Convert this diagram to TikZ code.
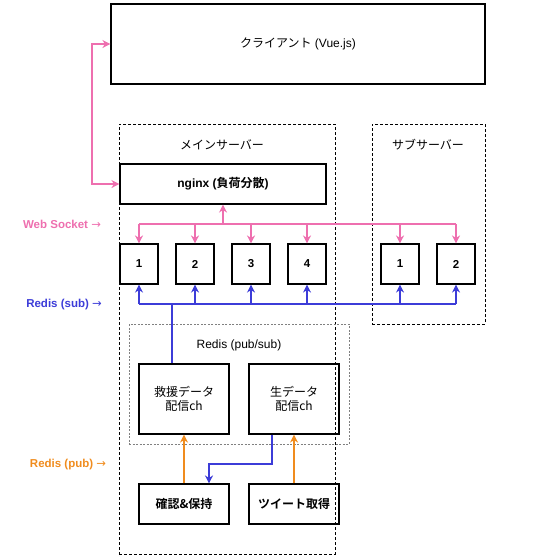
\documentclass[tikz,border=0pt]{standalone}
\usepackage{fontspec}
\setmainfont{Liberation Sans}
\newfontfamily\jp{Noto Sans CJK JP}[BoldFont={Noto Sans CJK JP Bold}]
\newfontfamily\sym{DejaVu Sans}
\usetikzlibrary{arrows.meta}
\definecolor{wspink}{HTML}{EE6FAF}
\definecolor{subblue}{HTML}{3C3CD8}
\definecolor{puborange}{HTML}{F08C1E}
\tikzset{
  box/.style={draw, line width=1.1pt, minimum width=#1, inner sep=0pt},
  worker/.style={draw, line width=1.1pt, minimum width=38pt, minimum height=40pt, inner sep=0pt, font=\bfseries\fontsize{11.5}{13}\selectfont},
  dashbox/.style={draw, dash pattern=on 3pt off 2pt, line width=1pt},
  dotbox/.style={draw=gray, dash pattern=on 2pt off 1.5pt, line width=0.7pt},
  txt/.style={font=\fontsize{12}{14.5}\selectfont, align=center},
  lbl/.style={font=\bfseries\fontsize{11.5}{13}\selectfont},
  tip/.style={-{Stealth[length=8pt,width=8pt,inset=2.5pt]}},
  both/.style={{Stealth[length=8pt,width=8pt,inset=2.5pt]}-{Stealth[length=8pt,width=8pt,inset=2.5pt]}},
  ws/.style={wspink, line width=1.1pt},
  sb/.style={subblue, line width=1.1pt},
  pb/.style={puborange, line width=1.1pt},
}
\begin{document}
\begin{tikzpicture}[x=1pt,y=-1pt]
\useasboundingbox (0,0) rectangle (560,560);
% containers
\node[dashbox, minimum width=216pt, minimum height=430pt, inner sep=0pt] (main) at (227,339) {};
\node[dashbox, minimum width=113pt, minimum height=200pt, inner sep=0pt] (sub) at (428.5,224) {};
\node[txt] (maint) at (222,145) {\jp メインサーバー};
\node[txt] (subt) at (428,145) {\jp サブサーバー};
\node[dotbox, minimum width=220pt, minimum height=120pt, inner sep=0pt] (redis) at (239,384) {};
\node[txt] (redist) at (239,345) {Redis (pub/sub)};
% boxes
\node[box=374pt, minimum height=80pt, txt] (client) at (298,44) {{\jp クライアント} (Vue.js)};
\node[box=206pt, minimum height=40pt, txt, font=\bfseries\fontsize{12}{14.5}\selectfont] (nginx) at (223,184) {nginx ({\jp\bfseries 負荷分散})};
\node[worker] (w1) at (139,264) {1};
\node[worker] (w2) at (195,264) {2};
\node[worker] (w3) at (251,264) {3};
\node[worker] (w4) at (307,264) {4};
\node[worker] (s1) at (400,264) {1};
\node[worker] (s2) at (456,264) {2};
\node[box=90pt, minimum height=70pt, txt] (rescue) at (184,399) {\jp 救援データ\\[-1pt]\jp 配信ch};
\node[box=90pt, minimum height=70pt, txt] (raw) at (294,399) {\jp 生データ\\[-1pt]\jp 配信ch};
\node[box=90pt, minimum height=40pt, txt] (check) at (184,504) {\jp\bfseries 確認\&保持};
\node[box=90pt, minimum height=40pt, txt] (tweet) at (294,504) {\jp\bfseries ツイート取得};
% labels
\node[lbl, text=wspink] (lws) at (62,224) {Web Socket {\sym\mdseries →}};
\node[lbl, text=subblue] (lsub) at (64,305) {Redis (sub) {\sym\mdseries →}};
\node[lbl, text=puborange] (lpub) at (68,465) {Redis (pub) {\sym\mdseries →}};
% client <-> nginx
\coordinate (cl) at (92,44);
\coordinate (nl) at (92,184);
\draw[ws, both] (client.west) -- (cl) -- (nl) -- (nginx.west);
% websocket bus
\coordinate (wsL) at (139,224);
\coordinate (wsR) at (456,224);
\draw[ws] (wsL) -- (wsR);
\draw[ws, tip] (223,224) -- (nginx.south);
\foreach \n in {w1,w2,w3,w4,s1,s2}{
  \draw[ws, tip] (\n.north |- wsL) -- (\n.north);
}
% redis sub bus
\coordinate (sbL) at (139,304);
\coordinate (sbR) at (456,304);
\draw[sb] (sbL) -- (sbR);
\foreach \n in {w1,w2,w3,w4,s1,s2}{
  \draw[sb, tip] (\n.south |- sbL) -- (\n.south);
}
\draw[sb] (172,304) -- (rescue.north -| 172,0);
% pub arrows
\draw[pb, tip] (check.north) -- (rescue.south);
\draw[pb, tip] (tweet.north) -- (raw.south);
% raw -> check
\coordinate (r1) at (272,464);
\coordinate (r2) at (209,464);
\draw[sb, tip] (raw.south -| r1) -- (r1) -- (r2) -- (check.north -| r2);
\end{tikzpicture}
\end{document}
